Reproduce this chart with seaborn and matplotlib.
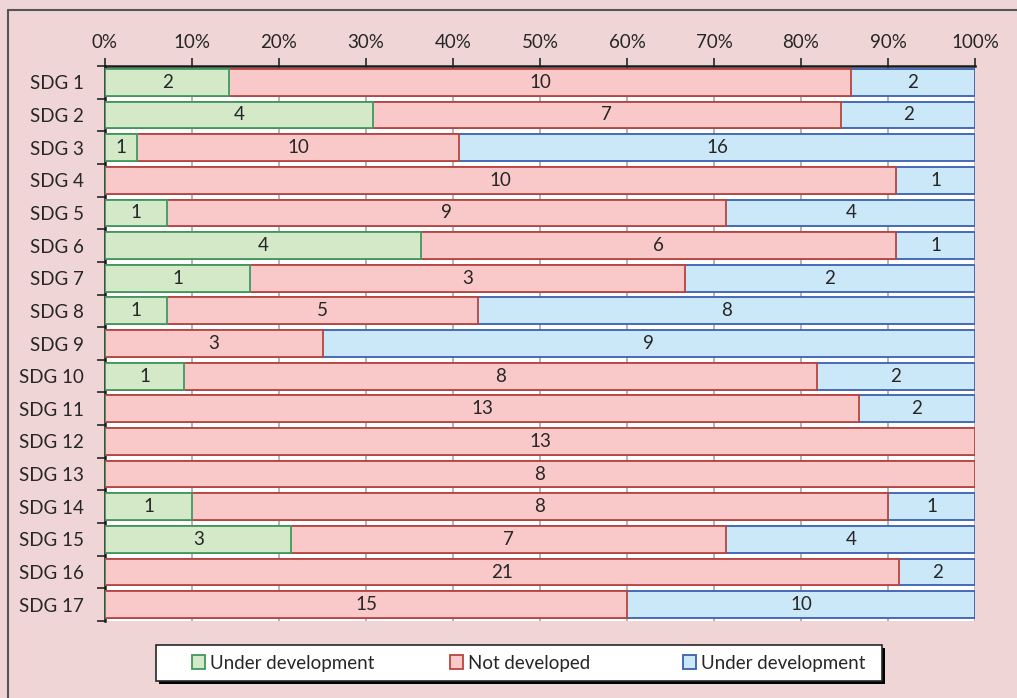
import matplotlib
matplotlib.use("Agg")
import matplotlib.pyplot as plt
from matplotlib.patches import Patch, Rectangle
from matplotlib.lines import Line2D
from matplotlib.ticker import PercentFormatter, FixedLocator
import numpy as np
import pandas as pd
import seaborn as sns

goals = [f"SDG {i}" for i in range(1, 18)]
under_dev_a = [2, 4, 1, 0, 1, 4, 1, 1, 0, 1, 0, 0, 0, 1, 3, 0, 0]
not_developed = [10, 7, 10, 10, 9, 6, 3, 5, 3, 8, 13, 13, 8, 8, 7, 21, 15]
under_dev_b = [2, 2, 16, 1, 4, 1, 2, 8, 9, 2, 2, 0, 0, 1, 4, 2, 10]
legend_labels = ["Under development", "Not developed", "Under development"]

fills = ["#D4E9C8", "#F9C8C8", "#CBE8F8"]
edges = ["#3F9A5E", "#B9443D", "#3A60B2"]
bg = "#F0D5D6"
ink = "#262626"
fs = 13.5

sns.set_theme(style="white")
plt.rcParams["font.family"] = ["Lato", "DejaVu Sans"]

df = pd.DataFrame({"goal": goals, "a": under_dev_a, "b": not_developed, "c": under_dev_b})
tot = df[["a", "b", "c"]].sum(axis=1)
df["s1"] = df["a"] / tot
df["s2"] = (df["a"] + df["b"]) / tot
df["s3"] = (df["a"] + df["b"] + df["c"]) / tot

W, H = 1017, 698
fig = plt.figure(figsize=(W / 100, H / 100), dpi=100, facecolor=bg)
ax = fig.add_axes([105 / W, 1 - 621 / H, 870 / W, (621 - 66) / H])
ax.set_facecolor("white")

# stacked segments drawn as overlaid cumulative bars, largest first
for col, fc, ec in [("s3", fills[2], edges[2]), ("s2", fills[1], edges[1]), ("s1", fills[0], edges[0])]:
    sns.barplot(data=df, x=col, y="goal", orient="h", order=goals, width=0.82,
                color=fc, edgecolor=ec, linewidth=1.3, saturation=1, ax=ax, zorder=3)

# count labels centred in each segment
for i, row in df.iterrows():
    starts = [0, row["s1"], row["s2"]]
    ends = [row["s1"], row["s2"], row["s3"]]
    for v, s, e in zip([row["a"], row["b"], row["c"]], starts, ends):
        if v > 0:
            ax.text((s + e) / 2, i, str(int(v)), ha="center", va="center",
                    fontsize=fs, color=ink, zorder=5)

ax.set_xlim(0, 1)
ax.set_ylim(16.5, -0.5)
ax.set_xlabel("")
ax.set_ylabel("")
ax.xaxis.set_major_locator(FixedLocator(np.linspace(0, 1, 11)))
ax.xaxis.set_major_formatter(PercentFormatter(1.0, decimals=0))
ax.xaxis.tick_top()
ax.tick_params(axis="x", which="major", direction="out", length=6, width=1.2,
               color=ink, labelsize=fs, labelcolor=ink, pad=5, top=True, bottom=False)
ax.tick_params(axis="y", which="major", length=0, labelsize=fs, labelcolor=ink, pad=15)
ax.yaxis.set_minor_locator(FixedLocator(np.arange(-0.5, 17, 1)))
ax.tick_params(axis="y", which="minor", direction="out", length=6, width=1.2, color=ink, left=True)
ax.grid(axis="x", color="#A6A6A6", linewidth=1.2, zorder=0)
ax.set_axisbelow(True)
for side in ["right", "bottom"]:
    ax.spines[side].set_visible(False)
for side in ["top", "left"]:
    ax.spines[side].set_color("#1a1a1a")
    ax.spines[side].set_linewidth(1.8)

# outer chart frame
fig.add_artist(Line2D([8 / W, 8 / W], [0, 1 - 10 / H], transform=fig.transFigure,
                      color="#555555", linewidth=1.5))
fig.add_artist(Line2D([8 / W, 1], [1 - 10 / H, 1 - 10 / H], transform=fig.transFigure,
                      color="#555555", linewidth=1.5))

# legend box with drop shadow
lx0, lx1, ly0, ly1 = 156, 882, 645, 681
fig.add_artist(Rectangle(((lx0 + 3) / W, 1 - (ly1 + 3) / H), (lx1 - lx0) / W, (ly1 - ly0) / H,
                         transform=fig.transFigure, facecolor="black", edgecolor="none", zorder=1))
fig.add_artist(Rectangle((lx0 / W, 1 - ly1 / H), (lx1 - lx0) / W, (ly1 - ly0) / H,
                         transform=fig.transFigure, facecolor="white", edgecolor=ink,
                         linewidth=1.2, zorder=2))

entry_x = [192, 450, 683]
for f, e, lab, x in zip(fills, edges, legend_labels, entry_x):
    leg = fig.legend([Patch(facecolor=f, edgecolor=e, linewidth=1.3)], [lab],
                     loc="center left", bbox_to_anchor=(x / W, 1 - 663 / H),
                     frameon=False, fontsize=fs, handlelength=0.7, handleheight=0.75,
                     handletextpad=0.25, borderpad=0, borderaxespad=0)
    leg.set_zorder(3)
    for t in leg.get_texts():
        t.set_color(ink)

fig.savefig("out.png", dpi=100, facecolor=bg)
